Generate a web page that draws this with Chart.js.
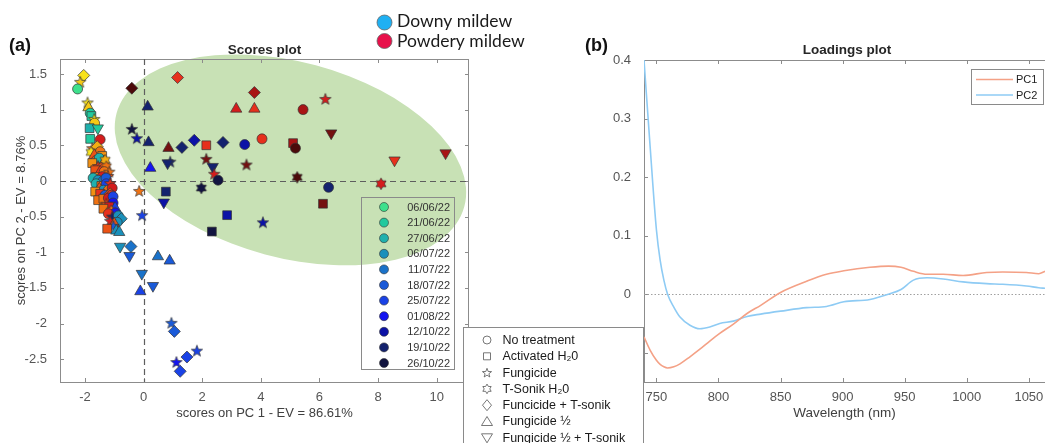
<!DOCTYPE html>
<html>
<head>
<meta charset="utf-8">
<title>Scores and loadings plot</title>
<script src="https://cdn.jsdelivr.net/npm/chart.js@4.4.1/dist/chart.umd.min.js"></script>
<style>
  html, body { margin: 0; padding: 0; background: #fff; }
  #page { position: relative; width: 1045px; height: 443px; overflow: hidden; }
  #scoresChart { position: absolute; left: 0; top: 0; }
  #loadingsChart { position: absolute; left: 460px; top: 0; }
</style>
</head>
<body>
<div id="page">
  <canvas id="scoresChart" width="545" height="443"></canvas>
  <canvas id="loadingsChart" width="585" height="443"></canvas>
</div>
<script>
// ---- values ----
const sampleDates = ['06/06/22', '21/06/22', '27/06/22', '06/07/22', '11/07/22', '18/07/22',
                     '25/07/22', '01/08/22', '12/10/22', '19/10/22', '26/10/22'];
const downyColours = ['#3ee08c', '#22c99e', '#1fb0ad', '#1a90bb', '#1a72c9', '#1a5ad8',
                      '#1a42e6', '#1414f0', '#0c12a6', '#14226e', '#121440'];
const powderyColours = ['#f8e21c', '#f6c915', '#f4ad12', '#f29012', '#f07212', '#ec5214',
                        '#e6301c', '#d41c1c', '#a81414', '#741010', '#4c0a0a'];
const treatments = ['No treatment', 'Activated H\u20820', 'Fungicide', 'T-Sonik H\u20820',
                    'Funcicide + T-sonik', 'Fungicide \u00bd', 'Fungicide \u00bd + T-sonik'];

const scoreTicksX = [-2, 0, 2, 4, 6, 8, 10];
const scoreTicksY = [-2.5, -2, -1.5, -1, -0.5, 0, 0.5, 1, 1.5];

// [PC1 score, PC2 score, date index, disease (D downy / P powdery), treatment index]
const scorePoints = [
  [-2.04, 1.48, 0, 'P', 4], [-2.16, 1.39, 1, 'P', 2], [-2.25, 1.29, 0, 'D', 0], [-1.91, 1.10, 0, 'P', 2],
  [-1.88, 1.03, 1, 'P', 5], [-1.82, 0.95, 1, 'D', 0], [-1.78, 0.91, 1, 'D', 1], [-1.68, 0.87, 0, 'P', 2],
  [-1.67, 0.81, 1, 'P', 0], [-1.84, 0.74, 2, 'D', 1], [-1.56, 0.74, 1, 'D', 6], [-1.82, 0.59, 1, 'D', 1],
  [-1.48, 0.58, 7, 'P', 0], [-1.65, 0.44, 0, 'P', 4], [-1.56, 0.39, 2, 'D', 0],
  [-1.75, 0.46, 4, 'P', 2], [-1.58, 0.48, 2, 'P', 4], [-1.48, 0.41, 4, 'P', 0], [-1.79, 0.40, 0, 'P', 3],
  [-1.68, 0.36, 5, 'P', 5], [-1.41, 0.35, 3, 'P', 1], [-1.61, 0.29, 5, 'P', 0], [-1.51, 0.32, 2, 'D', 0],
  [-1.34, 0.27, 4, 'P', 5], [-1.31, 0.29, 2, 'P', 3], [-1.75, 0.25, 3, 'P', 1], [-1.55, 0.21, 6, 'P', 2],
  [-1.44, 0.18, 5, 'P', 4], [-1.27, 0.20, 4, 'P', 3], [-1.65, 0.15, 5, 'P', 1], [-1.48, 0.13, 6, 'P', 5],
  [-1.34, 0.13, 4, 'P', 0], [-1.17, 0.13, 4, 'P', 2], [-1.58, 0.07, 3, 'P', 6], [-1.41, 0.06, 7, 'P', 0],
  [-1.21, 0.07, 5, 'P', 2], [-1.72, 0.04, 2, 'D', 0], [-1.55, 0.01, 3, 'D', 0], [-1.38, 0.00, 4, 'D', 0],
  [-1.28, 0.04, 5, 'D', 0], [-1.62, -0.04, 2, 'D', 0], [-1.44, -0.07, 4, 'P', 1], [-1.27, -0.04, 6, 'D', 0],
  [-1.14, -0.03, 6, 'P', 2], [-1.51, -0.11, 5, 'P', 5], [-1.37, -0.13, 3, 'D', 0], [-1.20, -0.13, 4, 'P', 0],
  [-1.07, -0.10, 7, 'P', 0], [-1.65, -0.15, 3, 'P', 1], [-1.48, -0.18, 6, 'P', 1], [-1.31, -0.20, 5, 'D', 0],
  [-1.14, -0.18, 5, 'P', 4], [-1.10, -0.20, 6, 'P', 0], [-1.55, -0.27, 4, 'P', 1], [-1.37, -0.25, 4, 'P', 1],
  [-1.20, -0.24, 7, 'P', 0], [-1.04, -0.22, 6, 'D', 0], [-1.04, -0.31, 7, 'D', 0], [-1.27, -0.32, 5, 'P', 2],
  [-1.17, -0.36, 7, 'P', 1], [-1.37, -0.39, 4, 'P', 1], [-0.97, -0.38, 6, 'D', 5], [-1.10, -0.42, 4, 'P', 3],
  [-0.97, -0.45, 7, 'D', 0], [-1.20, -0.46, 6, 'P', 0], [-1.07, -0.50, 9, 'D', 2], [-0.86, -0.49, 3, 'D', 0],
  [-0.76, -0.53, 3, 'D', 4], [-0.90, -0.58, 3, 'D', 0], [-1.14, -0.56, 7, 'P', 2], [-1.00, -0.60, 5, 'P', 5],
  [-1.03, -0.63, 5, 'D', 2], [-1.24, -0.67, 5, 'P', 1], [-0.93, -0.70, 3, 'D', 5], [-0.83, -0.72, 3, 'D', 5],
  // tail running down to the right
  [-0.80, -0.92, 3, 'D', 6], [-0.43, -0.92, 4, 'D', 4], [-0.48, -1.05, 5, 'D', 6], [0.49, -1.06, 4, 'D', 5],
  [0.89, -1.12, 5, 'D', 5], [-0.06, -1.30, 4, 'D', 6], [0.32, -1.47, 5, 'D', 6], [-0.11, -1.55, 6, 'D', 5],
  [0.95, -1.99, 5, 'D', 2], [1.05, -2.11, 5, 'D', 4], [1.48, -2.47, 6, 'D', 4], [1.82, -2.38, 6, 'D', 2],
  [1.12, -2.54, 7, 'D', 2], [1.25, -2.67, 6, 'D', 4],
  // inside the ellipse
  [-0.40, 1.30, 10, 'P', 4], [1.16, 1.45, 6, 'P', 4], [0.14, 1.04, 9, 'D', 5], [3.78, 1.24, 8, 'P', 4],
  [3.16, 1.01, 7, 'P', 5], [3.78, 1.01, 6, 'P', 5], [5.44, 1.00, 8, 'P', 0], [6.20, 1.15, 7, 'P', 2],
  [6.40, 0.67, 9, 'P', 6], [-0.40, 0.73, 10, 'D', 2], [-0.23, 0.60, 8, 'D', 2], [0.17, 0.54, 9, 'D', 5],
  [0.85, 0.46, 9, 'P', 5], [1.31, 0.47, 9, 'D', 4], [1.73, 0.57, 8, 'D', 4], [2.14, 0.50, 6, 'P', 1],
  [2.71, 0.54, 9, 'D', 4], [3.45, 0.51, 8, 'D', 0], [4.04, 0.59, 6, 'P', 0], [5.10, 0.53, 8, 'P', 1],
  [5.18, 0.46, 10, 'P', 0], [0.91, 0.27, 9, 'D', 2], [0.82, 0.25, 9, 'D', 6], [2.14, 0.31, 9, 'P', 2],
  [2.36, 0.20, 9, 'D', 6], [2.41, 0.10, 7, 'P', 2], [2.54, 0.01, 10, 'D', 0], [3.51, 0.23, 9, 'P', 2],
  [0.23, 0.18, 7, 'D', 5], [5.24, 0.05, 10, 'P', 3], [6.31, -0.09, 9, 'D', 0], [0.76, -0.15, 9, 'D', 1],
  [0.69, -0.30, 8, 'D', 6], [1.97, -0.10, 10, 'D', 3], [-0.15, -0.14, 4, 'P', 2], [-0.05, -0.48, 6, 'D', 2],
  [2.85, -0.48, 8, 'D', 1], [2.33, -0.71, 10, 'D', 1], [4.07, -0.58, 8, 'D', 2], [6.12, -0.32, 9, 'P', 1],
  [8.56, 0.29, 6, 'P', 6], [10.30, 0.39, 8, 'P', 6], [8.10, -0.04, 7, 'P', 3]
];

// confidence ellipse (centre in score units, radii in PC1 units, tilt in degrees)
const ellipseCentre = [5.01, 0.295];
const ellipseRadii = [6.14, 3.34];
const ellipseTilt = 15;

const wavelengthTicks = [750, 800, 850, 900, 950, 1000, 1050];
const loadingTicks = [-0.1, 0, 0.1, 0.2, 0.3, 0.4];
const wavelengths = [740, 745, 750, 753, 756, 759, 764, 769, 777, 785, 793, 801, 812, 823, 834, 850,
                     871, 887, 901, 922, 937, 947, 957, 968, 981, 997, 1016, 1029, 1048, 1058, 1063];
const pc1Loadings = [-0.073, -0.096, -0.113, -0.120, -0.124, -0.126, -0.124, -0.119, -0.107, -0.094,
                     -0.080, -0.067, -0.051, -0.033, -0.019, 0.003, 0.022, 0.034, 0.040, 0.046,
                     0.048, 0.046, 0.039, 0.034, 0.034, 0.032, 0.037, 0.038, 0.037, 0.035, 0.039];
const pc2Loadings = [0.400, 0.250, 0.110, 0.058, 0.024, 0.000, -0.022, -0.039, -0.053, -0.059,
                     -0.056, -0.050, -0.046, -0.038, -0.034, -0.029, -0.023, -0.021, -0.013, -0.009,
                     0.000, 0.008, 0.024, 0.028, 0.026, 0.021, 0.018, 0.017, 0.014, 0.011, 0.010];

// ---- look ----
const FONT = '"Liberation Sans", Arial, sans-serif';
const axisGrey = '#8c8c8c';
const tickGrey = '#555555';
const titleGrey = '#404040';
const pc1Colour = '#f4a186';
const pc2Colour = '#8ecbf4';

Chart.defaults.font.family = FONT;

const fmt = v => String(Math.round(v * 100) / 100);

function traceStar(g, cx, cy, n, rOut, rIn) {
  g.beginPath();
  for (let i = 0; i < 2 * n; i++) {
    const r = i % 2 ? rIn : rOut;
    const a = -Math.PI / 2 + i * Math.PI / n;
    g.lineTo(cx + r * Math.cos(a), cy + r * Math.sin(a));
  }
  g.closePath();
}

const markerCache = {};
function starMarker(n, colour) {
  const key = n + colour;
  if (markerCache[key]) return markerCache[key];
  const c = document.createElement('canvas');
  c.width = c.height = 14;
  const g = c.getContext('2d');
  if (n === 5) traceStar(g, 7, 7.5, 5, 6, 2.5);
  else traceStar(g, 7, 7, 6, 5.8, 3.4);
  g.fillStyle = colour;
  g.fill();
  g.strokeStyle = '#333';
  g.lineWidth = 0.7;
  g.stroke();
  markerCache[key] = c;
  return c;
}

function pointColour(p) {
  return (p[3] === 'D' ? downyColours : powderyColours)[p[2]];
}
function pointStyle(p) {
  const t = p[4];
  if (t === 0) return 'circle';
  if (t === 1) return 'rect';
  if (t === 2) return starMarker(5, pointColour(p));
  if (t === 3) return starMarker(6, pointColour(p));
  if (t === 4) return 'rectRot';
  return 'triangle';
}
const radiusByTreatment = [5, 6.2, 6, 6, 6, 6.5, 6.5];

function boxTicks(chart, withRight) {
  const {ctx, chartArea: a, scales: {x, y}} = chart;
  ctx.save();
  ctx.strokeStyle = axisGrey;
  ctx.lineWidth = 1;
  ctx.beginPath();
  x.ticks.forEach(t => {
    const p = Math.round(x.getPixelForValue(t.value)) + 0.5;
    ctx.moveTo(p, a.bottom); ctx.lineTo(p, a.bottom - 4);
    ctx.moveTo(p, a.top); ctx.lineTo(p, a.top + 4);
  });
  y.ticks.forEach(t => {
    const p = Math.round(y.getPixelForValue(t.value)) + 0.5;
    ctx.moveTo(a.left, p); ctx.lineTo(a.left + 4, p);
    if (withRight) { ctx.moveTo(a.right, p); ctx.lineTo(a.right - 4, p); }
  });
  const top = Math.round(a.top) + 0.5;
  ctx.moveTo(a.left, top); ctx.lineTo(a.right, top);
  if (withRight) {
    const r = Math.round(a.right) - 0.5;
    ctx.moveTo(r, a.top); ctx.lineTo(r, a.bottom);
  }
  ctx.stroke();
  ctx.restore();
}

function panelTitle(ctx, text, cx, tag, tagX) {
  ctx.save();
  ctx.fillStyle = '#262626';
  ctx.textBaseline = 'alphabetic';
  ctx.font = 'bold 13.5px ' + FONT;
  ctx.textAlign = 'center';
  ctx.fillText(text, cx, 54);
  ctx.font = 'bold 18px ' + FONT;
  ctx.textAlign = 'left';
  ctx.fillStyle = '#111';
  ctx.fillText(tag, tagX, 51);
  ctx.restore();
}

const scoresDecor = {
  id: 'scoresDecor',
  beforeDraw(chart) {
    const {ctx, scales: {x, y}} = chart;
    const unit = x.getPixelForValue(1) - x.getPixelForValue(0);
    ctx.save();
    ctx.beginPath();
    ctx.ellipse(x.getPixelForValue(ellipseCentre[0]), y.getPixelForValue(ellipseCentre[1]),
                ellipseRadii[0] * unit, ellipseRadii[1] * unit, ellipseTilt * Math.PI / 180, 0, Math.PI * 2);
    ctx.fillStyle = '#c8e1b5';
    ctx.fill();
    ctx.restore();
  },
  beforeDatasetsDraw(chart) {
    const {ctx, chartArea: a, scales: {x, y}} = chart;
    boxTicks(chart, true);
    ctx.save();
    ctx.strokeStyle = '#5e5e5e';
    ctx.lineWidth = 1.2;
    ctx.setLineDash([6, 4]);
    const x0 = Math.round(x.getPixelForValue(0)) + 0.5;
    const y0 = Math.round(y.getPixelForValue(0)) + 0.5;
    ctx.beginPath();
    ctx.moveTo(x0, a.top); ctx.lineTo(x0, a.bottom);
    ctx.moveTo(a.left, y0); ctx.lineTo(a.right, y0);
    ctx.stroke();
    ctx.restore();
  },
  afterDraw(chart) {
    const ctx = chart.ctx;
    const a = chart.chartArea;
    panelTitle(ctx, 'Scores plot', (a.left + a.right) / 2, '(a)', 9);

    // date legend
    ctx.save();
    ctx.strokeStyle = '#8a8a8a';
    ctx.lineWidth = 1;
    ctx.strokeRect(361.5, 197.5, 93, 172);
    ctx.font = '11px ' + FONT;
    ctx.textAlign = 'right';
    ctx.textBaseline = 'middle';
    sampleDates.forEach((d, i) => {
      const yy = 207 + i * 15.6;
      ctx.beginPath();
      ctx.arc(384, yy, 4.5, 0, Math.PI * 2);
      ctx.fillStyle = downyColours[i];
      ctx.fill();
      ctx.strokeStyle = '#333';
      ctx.lineWidth = 0.6;
      ctx.stroke();
      ctx.fillStyle = '#333';
      ctx.fillText(d, 450, yy + 0.5);
    });

    // disease legend
    const mildew = [['Downy mildew', '#1fb0f2', 22.5, 26.5], ['Powdery mildew', '#e8104a', 41, 46.5]];
    ctx.textAlign = 'left';
    ctx.textBaseline = 'alphabetic';
    ctx.font = '17.5px Lato, "Open Sans", sans-serif';
    mildew.forEach(([label, colour, cy, base]) => {
      ctx.beginPath();
      ctx.arc(384.5, cy, 7.5, 0, Math.PI * 2);
      ctx.fillStyle = colour;
      ctx.fill();
      ctx.strokeStyle = '#666';
      ctx.lineWidth = 0.8;
      ctx.stroke();
      ctx.fillStyle = '#1a1a1a';
      ctx.fillText(label, 397, base);
    });
    ctx.restore();
  }
};

function drawOutlineMarker(ctx, t, x, y) {
  ctx.beginPath();
  if (t === 0) ctx.arc(x, y, 4, 0, Math.PI * 2);
  else if (t === 1) ctx.rect(x - 3.5, y - 3.5, 7, 7);
  else if (t === 2) traceStar(ctx, x, y + 0.5, 5, 4.8, 2);
  else if (t === 3) traceStar(ctx, x, y, 6, 4.8, 2.8);
  else if (t === 4) { ctx.moveTo(x, y - 5.5); ctx.lineTo(x + 4.5, y); ctx.lineTo(x, y + 5.5); ctx.lineTo(x - 4.5, y); ctx.closePath(); }
  else if (t === 5) { ctx.moveTo(x, y - 5); ctx.lineTo(x + 5.5, y + 4); ctx.lineTo(x - 5.5, y + 4); ctx.closePath(); }
  else { ctx.moveTo(x, y + 5); ctx.lineTo(x + 5.5, y - 4); ctx.lineTo(x - 5.5, y - 4); ctx.closePath(); }
  ctx.fillStyle = '#fff';
  ctx.fill();
  ctx.strokeStyle = '#555';
  ctx.lineWidth = 0.8;
  ctx.stroke();
}

const loadingsDecor = {
  id: 'loadingsDecor',
  beforeDatasetsDraw(chart) {
    const {ctx, chartArea: a, scales: {y}} = chart;
    boxTicks(chart, false);
    const y0 = Math.round(y.getPixelForValue(0)) + 0.5;
    ctx.save();
    ctx.strokeStyle = '#a0a0a0';
    ctx.lineWidth = 1;
    ctx.setLineDash([1.5, 2]);
    ctx.beginPath();
    ctx.moveTo(a.left, y0); ctx.lineTo(a.right, y0);
    ctx.stroke();
    ctx.restore();
  },
  afterDraw(chart) {
    const ctx = chart.ctx;
    panelTitle(ctx, 'Loadings plot', 387, '(b)', 125);

    ctx.save();
    // PC legend
    ctx.fillStyle = '#fff';
    ctx.fillRect(511.5, 69.5, 72, 35);
    ctx.strokeStyle = '#8a8a8a';
    ctx.lineWidth = 1;
    ctx.strokeRect(511.5, 69.5, 72, 35);
    ctx.font = '11px ' + FONT;
    ctx.textBaseline = 'middle';
    ctx.textAlign = 'left';
    [['PC1', pc1Colour, 79.5], ['PC2', pc2Colour, 95]].forEach(([label, colour, yy]) => {
      ctx.strokeStyle = colour;
      ctx.lineWidth = 1.6;
      ctx.beginPath();
      ctx.moveTo(516, yy); ctx.lineTo(553, yy);
      ctx.stroke();
      ctx.fillStyle = '#222';
      ctx.fillText(label, 556, yy + 0.5);
    });

    // treatment legend (sits over the left edge of this panel)
    ctx.fillStyle = '#fff';
    ctx.fillRect(3.5, 327.5, 180, 130);
    ctx.strokeStyle = '#8a8a8a';
    ctx.lineWidth = 1;
    ctx.strokeRect(3.5, 327.5, 180, 130);
    ctx.font = '12.5px ' + FONT;
    treatments.forEach((label, i) => {
      const yy = 340 + i * 16.3;
      drawOutlineMarker(ctx, i, 27, yy);
      ctx.fillStyle = '#1a1a1a';
      ctx.fillText(label, 42.5, yy + 0.5);
    });
    ctx.restore();
  }
};

new Chart(document.getElementById('scoresChart'), {
  type: 'scatter',
  data: {
    datasets: [{
      data: scorePoints.map(p => ({x: p[0], y: p[1]})),
      pointStyle: scorePoints.map(pointStyle),
      pointRadius: scorePoints.map(p => radiusByTreatment[p[4]]),
      pointHoverRadius: scorePoints.map(p => radiusByTreatment[p[4]]),
      pointRotation: scorePoints.map(p => (p[4] === 6 ? 180 : 0)),
      pointBackgroundColor: scorePoints.map(pointColour),
      pointBorderColor: '#333',
      pointBorderWidth: 0.7
    }]
  },
  options: {
    responsive: false,
    animation: false,
    events: [],
    layout: { padding: { left: 0, top: 59, right: 76, bottom: 0 } },
    plugins: { legend: { display: false }, tooltip: { enabled: false } },
    scales: {
      x: {
        type: 'linear', min: -2.85, max: 11.1,
        afterFit: s => { s.height = 61; },
        afterBuildTicks: s => { s.ticks = scoreTicksX.map(v => ({value: v})); },
        ticks: { autoSkip: false, padding: 0, color: tickGrey, font: { size: 13 }, callback: fmt },
        grid: { display: false },
        border: { color: axisGrey },
        title: { display: true, text: 'scores on PC 1 - EV = 86.61%', color: titleGrey,
                 font: { size: 13 }, padding: { top: 0, bottom: 22 } }
      },
      y: {
        min: -2.82, max: 1.71,
        afterFit: s => { s.width = 60; },
        afterBuildTicks: s => { s.ticks = scoreTicksY.map(v => ({value: v})); },
        ticks: { autoSkip: false, padding: 5, color: tickGrey, font: { size: 13 }, callback: fmt },
        grid: { display: false },
        border: { color: axisGrey },
        title: { display: true, text: 'scores on PC 2 - EV = 8.76%', color: titleGrey,
                 font: { size: 13 }, padding: { top: 14, bottom: 0 } }
      }
    }
  },
  plugins: [scoresDecor]
});

new Chart(document.getElementById('loadingsChart'), {
  type: 'line',
  data: {
    datasets: [
      { label: 'PC1', data: wavelengths.map((w, i) => ({x: w, y: pc1Loadings[i]})),
        borderColor: pc1Colour, borderWidth: 1.6, pointRadius: 0, cubicInterpolationMode: 'monotone' },
      { label: 'PC2', data: wavelengths.map((w, i) => ({x: w, y: pc2Loadings[i]})),
        borderColor: pc2Colour, borderWidth: 1.6, pointRadius: 0, cubicInterpolationMode: 'monotone' }
    ]
  },
  options: {
    responsive: false,
    animation: false,
    events: [],
    layout: { padding: { left: 134, top: 60, right: 0, bottom: 0 } },
    plugins: { legend: { display: false }, tooltip: { enabled: false } },
    scales: {
      x: {
        type: 'linear', min: 740, max: 1063,
        afterFit: s => { s.height = 61; },
        afterBuildTicks: s => { s.ticks = wavelengthTicks.map(v => ({value: v})); },
        ticks: { autoSkip: false, padding: 0, color: tickGrey, font: { size: 13 }, callback: fmt },
        grid: { display: false },
        border: { color: axisGrey },
        title: { display: true, text: 'Wavelength (nm)', color: titleGrey,
                 font: { size: 13.5 }, padding: { top: 0, bottom: 22 } }
      },
      y: {
        min: -0.15, max: 0.4,
        afterFit: s => { s.width = 50; },
        afterBuildTicks: s => { s.ticks = loadingTicks.map(v => ({value: v})); },
        ticks: { autoSkip: false, padding: 5, color: tickGrey, font: { size: 13 }, callback: fmt },
        grid: { display: false },
        border: { color: axisGrey }
      }
    }
  },
  plugins: [loadingsDecor]
});
</script>
</body>
</html>
